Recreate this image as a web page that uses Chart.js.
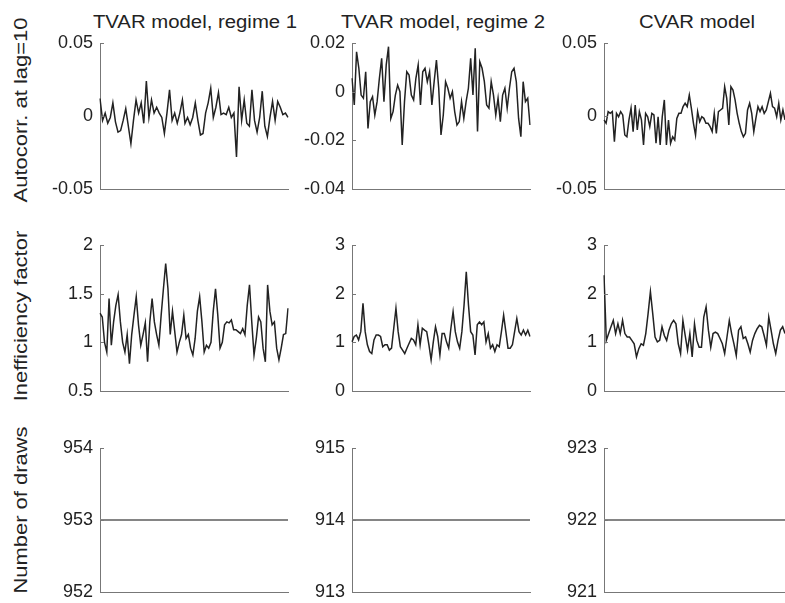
<!DOCTYPE html>
<html>
<head>
<meta charset="utf-8">
<script src="https://cdn.jsdelivr.net/npm/chart.js@4/dist/chart.umd.min.js"></script>
<style>
  html, body { margin: 0; padding: 0; background: #fff; }
  body { width: 785px; height: 603px; position: relative; overflow: hidden; font-family: "Liberation Sans", Arial, sans-serif; color: #222; }
  canvas { position: absolute; }
  .title { position: absolute; font-size: 18px; line-height: 18px; white-space: nowrap; transform: translateX(-50%) scaleX(1.13); }
  .ylab { position: absolute; font-size: 18px; line-height: 18px; white-space: nowrap; transform: translate(-50%, -50%) rotate(-90deg) scaleX(1.22); }
</style>
</head>
<body>
<div class="title" style="left:195px; top:13px;">TVAR model, regime 1</div>
<div class="title" style="left:443px; top:13px;">TVAR model, regime 2</div>
<div class="title" style="left:697px; top:13px;">CVAR model</div>
<div class="ylab" style="left:21px; top:110px;">Autocorr. at lag=10</div>
<div class="ylab" style="left:21px; top:316px;">Inefficiency factor</div>
<div class="ylab" style="left:21px; top:510px;">Number of draws</div>

<canvas id="c11"></canvas><canvas id="c12"></canvas><canvas id="c13"></canvas>
<canvas id="c21"></canvas><canvas id="c22"></canvas><canvas id="c23"></canvas>
<canvas id="c31"></canvas><canvas id="c32"></canvas><canvas id="c33"></canvas>

<script>
// autocorrelation at lag 10
const acfTvar1 = [0.012, -0.003, 0.002, -0.005, -0.001, 0.009, -0.004, -0.011, -0.010, -0.003, 0.005, -0.007, -0.019, -0.003, 0.011, 0.002, 0.009, -0.005, 0.024, -0.001, 0.011, 0.002, 0.006, 0.002, -0.001, -0.012, 0.002, 0.018, -0.003, 0.002, -0.005, 0.002, 0.011, -0.005, -0.001, -0.006, -0.001, 0.009, -0.003, -0.013, -0.012, 0.002, 0.009, 0.019, -0.001, 0.006, 0.016, 0.001, 0.002, 0.001, 0.006, -0.001, 0.002, -0.028, 0.020, -0.003, 0.011, -0.005, -0.007, 0.018, -0.003, -0.011, -0.001, 0.017, -0.007, -0.014, -0.001, 0.010, -0.003, 0.010, 0.006, 0.001, 0.002, -0.001];
const acfTvar2 = [0.0055, -0.0055, 0.0164, 0.0096, -0.0014, -0.0027, 0.0082, -0.0151, -0.0041, -0.0021, -0.0096, -0.0041, 0.0055, 0.0137, -0.0041, 0.011, 0.0185, -0.011, -0.0082, -0.0014, 0.0027, 0, -0.0219, -0.0041, 0.0082, 0.0068, -0.0014, -0.0034, 0.0055, 0.011, -0.0055, 0.0082, 0.0096, 0.0041, 0.0082, -0.0055, 0.0041, 0.013, 0.0014, -0.0178, -0.0096, 0.0041, 0.0014, -0.0027, 0, -0.0082, -0.0137, -0.0123, -0.0041, -0.011, -0.0041, 0.0014, 0.0137, -0.0014, 0.0178, -0.0164, 0.0123, 0.0096, 0.0041, -0.0055, -0.0068, 0.0041, -0.0014, -0.0096, -0.0027, -0.0123, -0.0014, 0.0014, -0.0068, 0.0014, 0.0082, 0.0096, 0.0041, -0.011, -0.0185, 0.0041, -0.0041, -0.0027, -0.0137];
const acfCvar = [-0.0027, -0.005, 0.003, 0.0018, 0.003, -0.0176, 0.0018, -0.0005, 0.003, 0.0007, -0.013, -0.0142, -0.0027, 0.0053, -0.0107, 0.0075, -0.0096, 0.003, -0.0027, -0.0199, 0.0018, -0.0005, -0.0073, 0.0018, 0.0007, -0.0187, -0.0005, -0.0199, -0.0005, 0.011, -0.0199, -0.0027, -0.0187, -0.0142, -0.0164, -0.0016, 0.0018, 0.0018, 0.0064, 0.0087, 0.0064, 0.0144, 0.0053, -0.005, -0.013, 0.003, -0.0039, -0.0005, -0.0016, -0.005, -0.005, -0.0073, -0.0107, 0.0018, -0.0119, 0.003, 0.0041, 0.0053, 0.0201, 0.0121, -0.0062, 0.0201, 0.0178, 0.011, 0.0018, -0.005, -0.0107, -0.0142, -0.0119, 0.0041, 0.0087, 0.0018, -0.0107, -0.0016, 0.0064, 0.003, 0.0064, 0.0018, 0.0041, 0.0098, 0.0155, 0.0064, 0.0053, -0.0005, 0.0087, -0.0027, 0.0041, -0.0027];

// inefficiency factors
const ineffTvar1 = [1.30, 1.26, 1.00, 0.90, 1.45, 0.97, 1.21, 1.38, 1.49, 1.21, 1.00, 0.90, 1.08, 0.78, 1.08, 1.28, 1.47, 1.18, 0.97, 1.08, 1.20, 0.80, 1.21, 1.45, 1.21, 1.08, 0.97, 1.28, 1.55, 1.81, 1.55, 1.08, 1.32, 1.11, 0.90, 1.00, 1.08, 1.28, 1.04, 1.08, 0.94, 0.87, 1.04, 1.32, 1.47, 1.21, 0.90, 0.97, 0.94, 1.00, 1.32, 1.55, 1.28, 0.94, 1.00, 1.18, 1.21, 1.20, 1.23, 1.13, 1.13, 1.11, 1.09, 1.14, 1.08, 1.38, 1.59, 1.21, 0.87, 1.04, 1.26, 1.21, 0.94, 0.80, 1.59, 1.32, 1.18, 1.21, 0.94, 0.82, 0.94, 1.08, 1.09, 1.35];
const ineffTvar2 = [1.01, 1.12, 1.15, 1.05, 1.22, 1.80, 1.22, 0.95, 0.81, 0.77, 1.05, 1.15, 1.15, 1.12, 0.91, 0.95, 0.95, 0.84, 0.88, 1.29, 1.70, 1.22, 0.91, 0.84, 0.77, 0.88, 0.98, 1.08, 1.05, 0.95, 1.36, 0.95, 1.29, 1.25, 1.22, 0.95, 0.64, 1.01, 1.32, 1.12, 0.74, 1.18, 1.18, 1.01, 0.88, 1.29, 1.63, 1.22, 1.01, 0.88, 1.22, 1.77, 2.45, 1.77, 1.22, 1.15, 0.74, 1.36, 1.42, 1.36, 1.42, 1.01, 1.18, 0.88, 0.95, 0.81, 0.95, 0.91, 1.22, 1.56, 1.22, 0.88, 0.88, 0.95, 1.22, 1.49, 1.22, 1.15, 1.25, 1.15, 1.25, 1.12];
const ineffCvar = [2.38, 1.04, 1.18, 1.32, 1.45, 1.18, 1.38, 1.18, 1.45, 1.18, 1.11, 1.11, 1.04, 0.97, 0.70, 0.87, 0.97, 0.94, 1.18, 1.59, 2.04, 1.59, 1.11, 1.01, 1.04, 1.32, 1.14, 1.04, 1.25, 1.38, 1.45, 1.38, 0.97, 0.77, 1.45, 1.14, 0.84, 1.18, 0.70, 1.38, 1.04, 0.90, 0.90, 1.52, 1.73, 1.25, 0.90, 1.18, 1.21, 1.18, 1.08, 0.97, 0.77, 1.11, 1.45, 1.18, 0.97, 0.73, 1.25, 1.32, 1.08, 1.11, 0.97, 0.80, 1.04, 1.18, 1.28, 1.35, 1.32, 1.14, 0.94, 1.52, 1.25, 0.97, 0.77, 1.04, 1.25, 1.32, 1.18];

// number of draws (constant over the sample)
const drawsTvar1 = [953, 953];
const drawsTvar2 = [914, 914];
const drawsCvar = [922, 922];

// axis ranges [min, max, step]
const acfRanges = [[-0.05, 0.05, 0.05], [-0.04, 0.02, 0.02], [-0.05, 0.05, 0.05]];
const ineffRanges = [[0.5, 2, 0.5], [0, 3, 1], [0, 3, 1]];
const drawsRanges = [[952, 954, 1], [913, 915, 1], [921, 923, 1]];

// plot box positions in the page
const colLeft = [100, 352, 604];
const colRight = [288, 530, 785];
const rowTop = [43, 245, 448];
const rowBottom = [189, 391, 592];
const AXW = 70; // room for tick labels
const PAD = 24; // room above/below for end tick labels

// matlab-style ticks pointing into the plot
const inwardTicks = {
    id: 'inwardTicks',
    afterDraw(chart) {
        const y = chart.scales.y;
        const ctx = chart.ctx;
        const left = chart.chartArea.left;
        ctx.save();
        ctx.strokeStyle = '#777';
        ctx.lineWidth = 1;
        y.ticks.forEach((t, i) => {
            const py = Math.round(y.getPixelForTick(i)) + 0.5;
            ctx.beginPath();
            ctx.moveTo(left, py);
            ctx.lineTo(left + 4, py);
            ctx.stroke();
        });
        ctx.restore();
    }
};

function makePanel(id, row, col, values, range, color, width) {
    const cv = document.getElementById(id);
    const w = AXW + (colRight[col] - colLeft[col]) + 2;
    const h = (rowBottom[row] - rowTop[row]) + 2 * PAD;
    cv.width = w; cv.height = h;
    cv.style.width = w + 'px'; cv.style.height = h + 'px';
    cv.style.left = (colLeft[col] - AXW) + 'px';
    cv.style.top = (rowTop[row] - PAD) + 'px';

    new Chart(cv.getContext('2d'), {
        type: 'line',
        data: {
            labels: values.map((v, i) => i),
            datasets: [{
                data: values,
                borderColor: color,
                borderWidth: width,
                pointRadius: 0,
                tension: 0,
                fill: false
            }]
        },
        options: {
            responsive: false,
            animation: false,
            devicePixelRatio: 1,
            layout: { padding: { top: PAD, bottom: PAD, left: 0, right: 2 } },
            plugins: { legend: { display: false }, tooltip: { enabled: false } },
            scales: {
                x: {
                    type: 'category',
                    offset: false,
                    grid: { display: false, drawTicks: false },
                    ticks: { display: false },
                    border: { display: true, color: '#777', width: 1 },
                    afterFit: s => { s.height = 0; }
                },
                y: {
                    min: range[0],
                    max: range[1],
                    grid: { display: false, drawTicks: false },
                    border: { display: true, color: '#777', width: 1 },
                    ticks: {
                        stepSize: range[2],
                        padding: 7,
                        color: '#222',
                        font: { family: '"Liberation Sans", Arial, sans-serif', size: 18 },
                        callback: v => String(Number(v.toFixed(4)))
                    },
                    afterFit: s => { s.width = AXW; }
                }
            }
        },
        plugins: [inwardTicks]
    });
}

const lineCol = '#222';
makePanel('c11', 0, 0, acfTvar1, acfRanges[0], lineCol, 1.5);
makePanel('c12', 0, 1, acfTvar2, acfRanges[1], lineCol, 1.5);
makePanel('c13', 0, 2, acfCvar, acfRanges[2], lineCol, 1.5);
makePanel('c21', 1, 0, ineffTvar1, ineffRanges[0], lineCol, 1.5);
makePanel('c22', 1, 1, ineffTvar2, ineffRanges[1], lineCol, 1.5);
makePanel('c23', 1, 2, ineffCvar, ineffRanges[2], lineCol, 1.5);
makePanel('c31', 2, 0, drawsTvar1, drawsRanges[0], '#858585', 2);
makePanel('c32', 2, 1, drawsTvar2, drawsRanges[1], '#858585', 2);
makePanel('c33', 2, 2, drawsCvar, drawsRanges[2], '#858585', 2);
</script>
</body>
</html>
